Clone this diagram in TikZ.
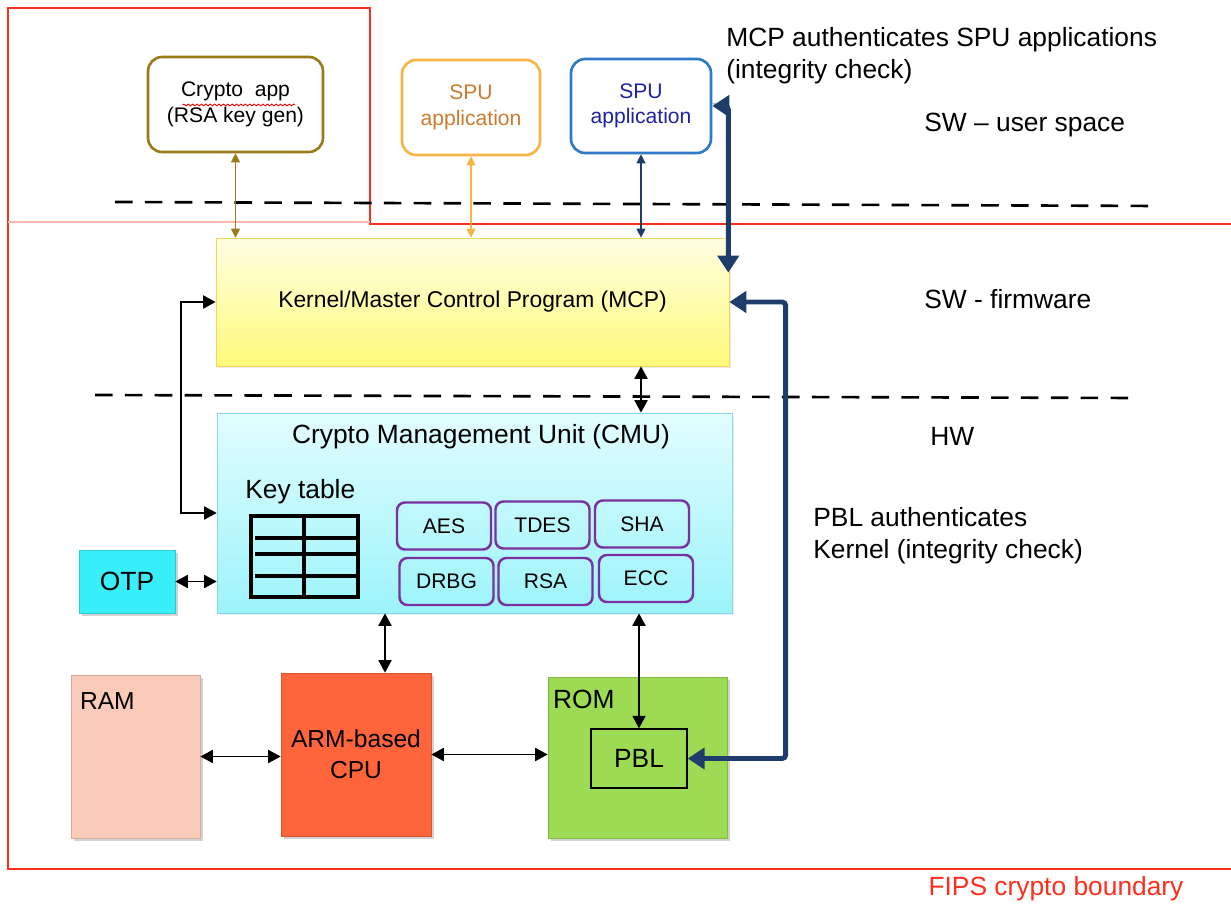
\documentclass[tikz,border=0pt]{standalone}
\usepackage{fontspec}
\setmainfont{Liberation Sans}
\usepackage{tikz}
\usetikzlibrary{arrows.meta,positioning,shadows,decorations.pathmorphing}

\definecolor{fipsred}{HTML}{FF2D1C}
\definecolor{appolive}{HTML}{9A7B1C}
\definecolor{spuorange}{HTML}{F8B444}
\definecolor{spuorangetext}{HTML}{CC7A30}
\definecolor{spublue}{HTML}{2F7AC6}
\definecolor{spubluetext}{HTML}{1F22A0}
\definecolor{authnavy}{HTML}{1F3D6B}
\definecolor{mcptop}{HTML}{FFFFE2}
\definecolor{mcpbottom}{HTML}{FFFA7A}
\definecolor{mcpborder}{HTML}{F6D55A}
\definecolor{cmutop}{HTML}{E2FDFF}
\definecolor{cmubottom}{HTML}{9CF4FA}
\definecolor{cmuborder}{HTML}{86D6EC}
\definecolor{algopurple}{HTML}{7A30A0}
\definecolor{otpcyan}{HTML}{38EEF8}
\definecolor{ramfill}{HTML}{FBCBBA}
\definecolor{cpufill}{HTML}{FF643A}
\definecolor{romfill}{HTML}{9EDB55}

\begin{document}
\begin{tikzpicture}[
    x=0.02cm, y=-0.02cm,
    note/.style={font=\fontsize{15}{18.5}\selectfont, align=left, inner sep=0pt},
    appbox/.style={rectangle, draw, rounded corners=8pt, line width=1.5pt, align=center, font=\fontsize{12}{14.5}\selectfont, minimum height=1.9cm},
    algo/.style={rectangle, draw=algopurple, rounded corners=4.5pt, line width=1.4pt, minimum width=1.88cm, minimum height=0.94cm, font=\fontsize{12}{14}\selectfont},
    chip/.style={rectangle, draw=#1!85!black, fill=#1, line width=0.4pt, drop shadow={opacity=0.35, shadow xshift=0.6mm, shadow yshift=-0.6mm}, font=\fontsize{14}{17.5}\selectfont, align=center},
    dbl/.style={{Triangle[length=2.5mm,width=2.6mm]}-{Triangle[length=2.5mm,width=2.6mm]}, line width=1.1pt},
    appline/.style={{Triangle[length=1.8mm,width=1.8mm]}-{Triangle[length=1.8mm,width=1.8mm]}, line width=0.7pt, draw=#1, fill=#1},
    authline/.style={{Triangle[length=3.4mm,width=4.2mm]}-{Triangle[length=3.4mm,width=4.2mm]}, line width=2.8pt, draw=authnavy, rounded corners=2pt},
    divider/.style={line width=1.5pt, dash pattern=on 10pt off 7pt},
    boundary/.style={draw=fipsred, line width=1.7pt}
]
\useasboundingbox (0,0) rectangle (1231,905);

% FIPS boundary
\draw[boundary] (1231,224) -- (370,224) -- (370,8) -- (8,8) -- (8,869) -- (1231,869);
\draw[fipsred!35, line width=0.6pt] (8,222) -- (370,222);

% Layer dividers
\draw[divider] (115,202) -- (1160,206);
\draw[divider] (95,395) -- (1140,398);

% User space applications
\node[appbox, draw=appolive, minimum width=3.5cm] (cryptoapp) at (235.5,104.5) {Crypto\ \ app\\(RSA key gen)};
\draw[red, line width=0.5pt, decorate, decoration={snake, amplitude=0.5pt, segment length=2.5pt}]
    ([xshift=-1.06cm,yshift=-0.01cm]cryptoapp.center) -- ([xshift=1.2cm,yshift=-0.01cm]cryptoapp.center);
\node[appbox, draw=spuorange, text=spuorangetext, minimum width=2.76cm] (spuA) at (471,107.5) {SPU\\application};
\node[appbox, draw=spublue, text=spubluetext, minimum width=2.8cm, minimum height=1.88cm] (spuB) at (641,106) {SPU\\application};

% Firmware
\node[rectangle, draw=mcpborder, top color=mcptop, bottom color=mcpbottom, minimum width=10.26cm, minimum height=2.56cm,
      font=\fontsize{13}{16}\selectfont, drop shadow={opacity=0.15, shadow xshift=0.5mm, shadow yshift=-0.5mm}] (mcp) at (472.5,302) {Kernel/Master Control Program (MCP)};

% Hardware: crypto management unit
\node[rectangle, draw=cmuborder, top color=cmutop, bottom color=cmubottom, minimum width=10.3cm, minimum height=4cm,
      drop shadow={opacity=0.15, shadow xshift=0.5mm, shadow yshift=-0.5mm}] (cmu) at (474.5,513) {};
\node[note] (cmutitle) at (481,437) {Crypto Management Unit (CMU)};
\node[note, anchor=west] (keytitle) at (245,492) {Key table};
\draw[line width=1.8pt] (251,516) rectangle (358,597);
\draw[line width=1.8pt] (304,516) -- (304,597);
\foreach \ky in {538,554,576}
    \draw[line width=1.8pt] (255,\ky) -- (360,\ky);

\node[algo] (aes) at (444,526) {AES};
\node[algo] (tdes) at (542.5,525) {TDES};
\node[algo] (sha) at (642,524) {SHA};
\node[algo] (drbg) at (446.5,581.5) {DRBG};
\node[algo] (rsa) at (545.5,581.5) {RSA};
\node[algo] (ecc) at (646,578.5) {ECC};

\node[chip=otpcyan, minimum width=1.92cm, minimum height=1.26cm, font=\fontsize{15}{18}\selectfont] (otp) at (127,581.5) {OTP};

% Memories and CPU
\node[chip=ramfill, minimum width=2.58cm, minimum height=3.26cm] (ram) at (135.5,756.5) {};
\node[note, font=\fontsize{14}{17}\selectfont, anchor=north west] (ramtext) at ([xshift=0.18cm,yshift=-0.36cm]ram.north west) {RAM};
\node[chip=cpufill, minimum width=3cm, minimum height=3.26cm] (cpu) at (356,754.5) {ARM-based\\CPU};
\node[chip=romfill, minimum width=3.58cm, minimum height=3.22cm] (rom) at (637.5,757.5) {};
\node[note, anchor=north west] (romtext) at ([xshift=0.1cm,yshift=-0.26cm]rom.north west) {ROM};
\node[rectangle, draw, line width=0.8pt, minimum width=1.92cm, minimum height=1.18cm, font=\fontsize{15}{18}\selectfont] (pbl) at (639,758.5) {PBL};

% Annotations
\node[note, anchor=north west] (mcpnote) at (726,27) {MCP authenticates SPU applications\\(integrity check)};
\node[note, anchor=west] (userspace) at (924,125) {SW \textendash{} user space};
\node[note, anchor=west] (firmware) at (924,299) {SW - firmware};
\node[note, anchor=west] (hw) at (930,436) {HW};
\node[note, anchor=north west] (pblnote) at (813,507) {PBL authenticates\\Kernel (integrity check)};
\node[note, text=fipsred] (fips) at (1056,889) {FIPS crypto boundary};

% Connections
\draw[appline=appolive] (cryptoapp.south) -- (cryptoapp.south |- mcp.north);
\draw[appline=spuorange] (spuA.south) -- (spuA.south |- mcp.north);
\draw[appline=authnavy] (spuB.south) -- (spuB.south |- mcp.north);
\draw[dbl] (mcp.south -| spuB.south) -- (cmu.north -| spuB.south);
\draw[dbl] (mcp.west) -- ++(-35,0) |- (cmu.west);
\draw[dbl] (otp.east) -- (otp.east -| cmu.west);
\draw[dbl] ([xshift=0.58cm]cpu.north |- cmu.south) -- ([xshift=0.58cm]cpu.north);
\draw[dbl] (pbl.north |- cmu.south) -- (pbl.north);
\draw[dbl] (ram.east) -- (ram.east -| cpu.west);
\draw[dbl] (cpu.east) -- (cpu.east -| rom.west);

% Integrity checks
\draw[authline] (spuB.east) -| ([xshift=-0.02cm,yshift=-0.7cm]mcp.north east);
\draw[authline] (pbl.east) -- ++(98,0) |- (mcp.east);
\end{tikzpicture}
\end{document}
